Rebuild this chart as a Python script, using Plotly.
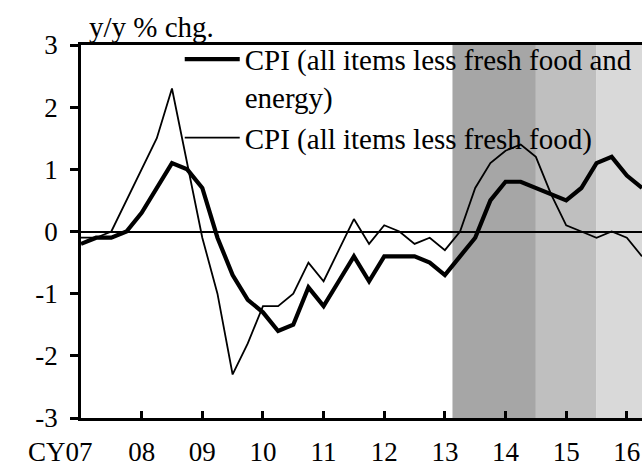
import plotly.graph_objects as go

# Quarterly data, 2007Q1 .. 2016Q2
start_year = 2007
n_q = 38
quarters = [start_year + i / 4 for i in range(n_q)]

cpi_core_core = [-0.2, -0.1, -0.1, 0.0, 0.3, 0.7, 1.1, 1.0, 0.7, -0.1,
                 -0.7, -1.1, -1.3, -1.6, -1.5, -0.9, -1.2, -0.8, -0.4, -0.8,
                 -0.4, -0.4, -0.4, -0.5, -0.7, -0.4, -0.1, 0.5, 0.8, 0.8,
                 0.7, 0.6, 0.5, 0.7, 1.1, 1.2, 0.9, 0.7]
cpi_core = [-0.1, -0.1, 0.0, 0.5, 1.0, 1.5, 2.3, 1.1, -0.1, -1.0,
            -2.3, -1.8, -1.2, -1.2, -1.0, -0.5, -0.8, -0.3, 0.2, -0.2,
            0.1, 0.0, -0.2, -0.1, -0.3, 0.0, 0.7, 1.1, 1.3, 1.4,
            1.2, 0.6, 0.1, 0.0, -0.1, 0.0, -0.1, -0.4]

series_names = ["CPI (all items less fresh food and<br>energy)",
                "CPI (all items less fresh food)"]

year_ticks = list(range(2007, 2017))
year_labels = ["", "08", "09", "10", "11", "12", "13", "14", "15", "16"]
first_label = "CY07"

y_ticks = [-3, -2, -1, 0, 1, 2, 3]
y_labels = ["-3", "-2", "-1", "0", "1", "2", "3"]

# shaded periods (in years)
shade_edges = [2013.125, 2014.5, 2015.5, 2016.5]
shade_colors = ["#a6a6a6", "#bfbfbf", "#d9d9d9"]

FONT = "Liberation Serif"

fig = go.Figure()
fig.add_trace(go.Scatter(x=quarters, y=cpi_core_core, mode="lines",
                         name=series_names[0],
                         line=dict(color="black", width=4.2)))
fig.add_trace(go.Scatter(x=quarters, y=cpi_core, mode="lines",
                         name=series_names[1],
                         line=dict(color="black", width=1.8)))

for i, c in enumerate(shade_colors):
    fig.add_shape(type="rect", xref="x", yref="paper",
                  x0=shade_edges[i], x1=shade_edges[i + 1], y0=0, y1=1,
                  fillcolor=c, line=dict(width=0), layer="below")

fig.add_annotation(x=year_ticks[0], y=0, xref="x", yref="paper",
                   text=first_label, showarrow=False, xanchor="center",
                   yanchor="top", xshift=-21, yshift=-17,
                   font=dict(family=FONT, size=27, color="black"))

fig.add_annotation(x=0.0107, y=1, xref="paper", yref="paper",
                   text="y/y % chg.", showarrow=False, xanchor="left",
                   yanchor="bottom", yshift=0,
                   font=dict(family=FONT, size=29, color="black"))

fig.update_layout(
    width=642, height=464,
    margin=dict(l=81, r=0, t=45, b=46, autoexpand=False),
    plot_bgcolor="white", paper_bgcolor="white",
    font=dict(family=FONT, color="black"),
    showlegend=True,
    legend=dict(x=0.176, y=1.03, xanchor="left", yanchor="top",
                bgcolor="rgba(0,0,0,0)", font=dict(family=FONT, size=29),
                valign="top", tracegroupgap=0, itemwidth=55),
    xaxis=dict(range=[2007, 2016.25], tickmode="array", tickvals=year_ticks,
               ticktext=year_labels, ticks="inside", ticklen=7, tickwidth=2.5,
               tickcolor="black", showline=True, linewidth=2.5,
               linecolor="black", mirror=True, showgrid=False, zeroline=False,
               automargin=False,
               tickfont=dict(family=FONT, size=27), ticklabelstandoff=8),
    yaxis=dict(range=[-3, 3], tickmode="array", tickvals=y_ticks,
               ticktext=y_labels, ticks="outside", ticklen=8, tickwidth=2.5,
               tickcolor="black", showline=True, linewidth=2.5,
               linecolor="black", showgrid=False, zeroline=True,
               zerolinecolor="black", zerolinewidth=2, automargin=False,
               tickfont=dict(family=FONT, size=27), ticklabelstandoff=7),
)

fig.write_html("out.html", config={"displayModeBar": False},
               post_script="document.body.style.margin='0';")
